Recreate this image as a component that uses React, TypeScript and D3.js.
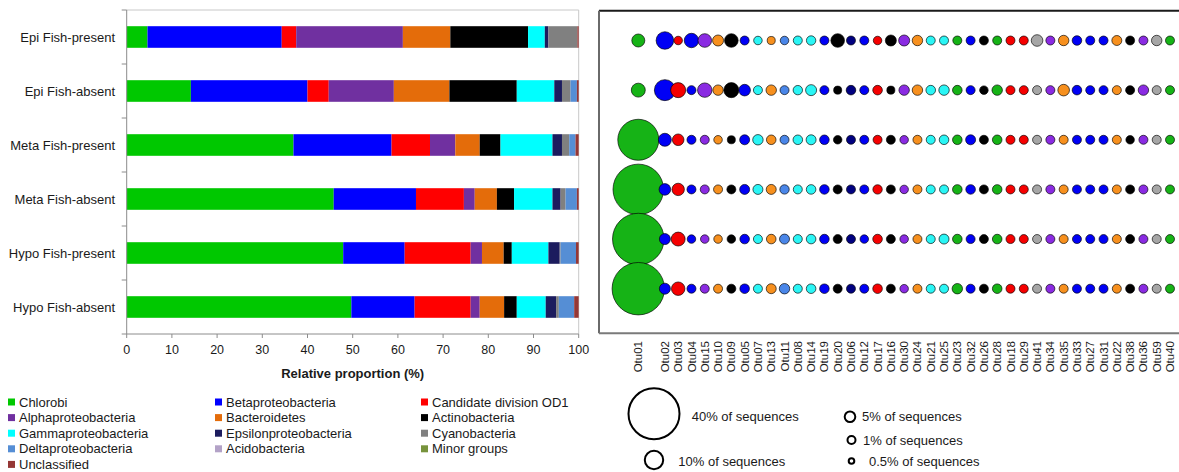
import React from "react";
import * as d3 from "d3";

// ---------- Stacked bar chart data ----------
const samples = [
  "Epi Fish-present",
  "Epi Fish-absent",
  "Meta Fish-present",
  "Meta Fish-absent",
  "Hypo Fish-present",
  "Hypo Fish-absent",
];

const phyla = [
  "Chlorobi",
  "Betaproteobacteria",
  "Candidate division OD1",
  "Alphaproteobacteria",
  "Bacteroidetes",
  "Actinobacteria",
  "Gammaproteobacteria",
  "Epsilonproteobacteria",
  "Cyanobacteria",
  "Deltaproteobacteria",
  "Acidobacteria",
  "Minor groups",
  "Unclassified",
];

const phylumColors = [
  "#00c800",
  "#0000ff",
  "#ff0000",
  "#7030a0",
  "#e46c0a",
  "#000000",
  "#00ffff",
  "#1c1c5e",
  "#808080",
  "#558ed5",
  "#b3a2c7",
  "#77933c",
  "#953735",
];

const barEpiPresent = [4.6, 29.7, 3.2, 23.6, 10.5, 17.2, 3.7, 0.8, 6.4, 0.0, 0.0, 0.0, 0.3];
const barEpiAbsent = [14.2, 25.8, 4.7, 14.4, 12.3, 14.9, 8.3, 1.7, 1.9, 1.4, 0.0, 0.0, 0.4];
const barMetaPresent = [36.9, 21.7, 8.5, 5.6, 5.4, 4.6, 11.5, 2.1, 1.6, 1.4, 0.0, 0.0, 0.7];
const barMetaAbsent = [45.8, 18.2, 10.6, 2.4, 4.9, 3.8, 8.5, 1.8, 1.1, 2.5, 0.0, 0.0, 0.4];
const barHypoPresent = [47.9, 13.6, 14.6, 2.5, 4.8, 1.8, 8.1, 2.5, 0.2, 3.4, 0.0, 0.0, 0.6];
const barHypoAbsent = [49.7, 14.0, 12.4, 2.0, 5.4, 2.8, 6.4, 2.3, 0.6, 3.4, 0.0, 0.0, 1.0];

const xTicks = [0, 10, 20, 30, 40, 50, 60, 70, 80, 90, 100];

// ---------- Bubble chart data ----------
const otuLabels = [
  "Otu01", "Otu02", "Otu03", "Otu04", "Otu15", "Otu10", "Otu09", "Otu05", "Otu07", "Otu13",
  "Otu11", "Otu08", "Otu14", "Otu19", "Otu20", "Otu06", "Otu12", "Otu17", "Otu16", "Otu30",
  "Otu24", "Otu21", "Otu25", "Otu23", "Otu32", "Otu26", "Otu28", "Otu18", "Otu29", "Otu41",
  "Otu34", "Otu35", "Otu33", "Otu27", "Otu31", "Otu22", "Otu38", "Otu36", "Otu59", "Otu40",
];

const otuGroups = [
  "Chl", "Beta", "OD1", "Beta", "Alpha", "Bact", "Actino", "Beta", "Gamma", "Bact",
  "Delta", "Gamma", "Gamma", "Beta", "Actino", "Eps", "Beta", "OD1", "Actino", "Alpha",
  "Bact", "Gamma", "Gamma", "Chl", "Beta", "Actino", "Chl", "OD1", "OD1", "Cyano",
  "Alpha", "Bact", "Beta", "Beta", "Beta", "Bact", "Actino", "Alpha", "Cyano", "Chl",
];

const groupKeys = ["Chl", "Beta", "OD1", "Alpha", "Bact", "Actino", "Gamma", "Delta", "Eps", "Cyano"];
const groupColors = ["#16b316", "#0000f5", "#f50000", "#8a2be2", "#f7901e", "#000000", "#2af5f5", "#4a86e8", "#000080", "#a6a6a6"];

const bubEpiPresent = [5.9, 8.8, 0.9, 6.8, 6.3, 4.1, 6.3, 1.0, 0.9, 0.8, 0.9, 1.0, 1.6, 1.0, 6.3, 1.0, 1.0, 0.9, 4.1, 4.1, 3.2, 1.0, 1.0, 1.0, 1.0, 1.0, 1.0, 1.0, 1.0, 5.0, 1.0, 3.2, 1.9, 1.0, 1.0, 2.5, 1.0, 1.0, 3.2, 1.0];
const bubEpiAbsent = [6.5, 11.5, 7.2, 1.0, 6.8, 3.2, 7.2, 5.0, 1.0, 3.2, 1.0, 1.6, 4.1, 1.0, 0.8, 1.9, 1.0, 1.9, 0.8, 3.2, 3.2, 1.9, 3.2, 1.9, 1.0, 0.9, 3.2, 1.0, 1.0, 1.0, 1.0, 5.0, 1.9, 1.0, 1.0, 1.0, 1.0, 3.2, 1.0, 1.0];
const bubMetaPresent = [29.9, 5.9, 5.0, 1.0, 1.0, 0.9, 0.8, 2.5, 3.2, 1.9, 1.0, 1.9, 2.5, 1.9, 0.9, 1.0, 1.0, 1.0, 1.0, 0.9, 1.0, 1.0, 1.9, 1.9, 2.5, 1.0, 1.9, 1.0, 1.0, 1.0, 1.0, 1.0, 1.0, 1.0, 1.0, 1.0, 0.9, 1.0, 1.0, 1.0];
const bubMetaAbsent = [38.7, 5.0, 5.5, 1.0, 1.0, 1.0, 1.0, 2.5, 2.5, 2.5, 1.6, 1.0, 1.9, 1.9, 1.0, 1.0, 1.0, 1.6, 1.0, 0.9, 1.0, 1.0, 1.0, 1.9, 1.9, 1.0, 1.9, 1.0, 1.0, 1.0, 1.0, 1.0, 1.0, 1.0, 1.0, 1.0, 1.0, 1.0, 1.0, 1.0];
const bubHypoPresent = [39.6, 4.1, 6.5, 0.9, 0.9, 0.9, 0.9, 1.9, 1.0, 1.9, 2.5, 1.0, 1.9, 1.9, 1.0, 1.0, 0.9, 1.9, 1.0, 0.9, 1.0, 1.0, 2.5, 1.9, 1.0, 1.0, 1.9, 1.0, 1.0, 1.0, 1.0, 1.0, 1.0, 1.0, 1.0, 1.0, 1.0, 1.0, 1.0, 1.0];
const bubHypoAbsent = [40.4, 4.1, 6.2, 1.0, 1.0, 1.0, 1.0, 1.9, 1.0, 2.5, 3.2, 1.0, 1.9, 1.9, 1.0, 1.0, 1.0, 1.9, 1.0, 0.9, 1.0, 1.0, 1.0, 3.2, 1.0, 1.0, 1.9, 1.0, 1.0, 1.0, 1.0, 1.0, 1.0, 1.0, 1.0, 1.0, 1.0, 1.0, 1.0, 1.0];

const sizeLegendValues = [40, 10, 5, 1, 0.5];
const sizeLegendLabels = ["40% of sequences", "10% of sequences", "5% of sequences", "1% of sequences", "0.5% of sequences"];

const FONT = "'Liberation Sans', Arial, Helvetica, sans-serif";
const TXT = "#1a1a1a";

export default function App() {
  const barValues = [barEpiPresent, barEpiAbsent, barMetaPresent, barMetaAbsent, barHypoPresent, barHypoAbsent];
  const bubValues = [bubEpiPresent, bubEpiAbsent, bubMetaPresent, bubMetaAbsent, bubHypoPresent, bubHypoAbsent];

  // --- bar chart scales
  const x = d3.scaleLinear().domain([0, 100]).range([126.7, 578.7]);
  const y = d3.scaleBand<string>().domain(samples).range([10, 334]).paddingInner(0.6).paddingOuter(0.3);
  const table = samples.map((s, i) => {
    const o: any = { sample: s };
    phyla.forEach((p, j) => (o[p] = barValues[i][j]));
    return o;
  });
  const stacked = d3.stack<any>().keys(phyla)(table);
  const color = d3.scaleOrdinal<string, string>().domain(phyla).range(phylumColors);
  const step = y.step();
  const boundaries = d3.range(samples.length + 1).map((k) => 10 + k * step);

  // --- bubble chart scales
  const slot = (i: number) => (i === 0 ? 0 : i + 1);
  const bx = d3.scaleLinear().domain([0, 40]).range([638.3, 1170]);
  const by = d3.scalePoint<string>().domain(samples).range([40.5, 288.7]);
  const rScale = d3.scaleLinear().domain([0.5, 1, 5, 10, 40]).range([3.8, 5, 6.3, 10.2, 26.5]);
  const gColor = d3.scaleOrdinal<string, string>().domain(groupKeys).range(groupColors);

  const legendCols = [8, 215, 421];
  const sizeLegendPos = [
    { cx: 654, cy: 413.7, tx: 691.7, ty: 416.7 },
    { cx: 654, cy: 460, tx: 678.3, ty: 461.7 },
    { cx: 850, cy: 416.7, tx: 862, ty: 416.7 },
    { cx: 851.5, cy: 440, tx: 863, ty: 440 },
    { cx: 851.5, cy: 461, tx: 869, ty: 461 },
  ];

  return (
    <svg
      width={1179}
      height={472}
      style={{ position: "absolute", left: 0, top: 0, background: "#fff" }}
      fontFamily={FONT}
    >
      <rect x={0} y={0} width={1179} height={472} fill="#fff" />

      {/* ===== Stacked bars ===== */}
      <g>
        <line x1={x(0)} x2={x(100)} y1={10} y2={10} stroke="#c8c8c8" strokeWidth={1} />
        <line x1={x(100)} x2={x(100)} y1={10} y2={334} stroke="#c8c8c8" strokeWidth={1} />
        {stacked.map((layer, j) =>
          layer.map((d, i) =>
            d[1] - d[0] > 0 ? (
              <rect
                key={`${j}-${i}`}
                x={x(d[0])}
                width={x(d[1]) - x(d[0])}
                y={y(samples[i])}
                height={y.bandwidth()}
                fill={color(phyla[j])}
              />
            ) : null
          )
        )}
        <line x1={x(0)} x2={x(0)} y1={10} y2={334} stroke="#8c8c8c" strokeWidth={1} />
        {boundaries.map((b, k) => (
          <line key={k} x1={x(0) - 5} x2={x(0)} y1={b} y2={b} stroke="#8c8c8c" strokeWidth={1} />
        ))}
        {samples.map((s) => (
          <text
            key={s}
            x={115}
            y={(y(s) as number) + y.bandwidth() / 2}
            dy="0.35em"
            textAnchor="end"
            fontSize={13}
            fill={TXT}
          >
            {s}
          </text>
        ))}
        <line x1={x(0)} x2={x(100)} y1={334} y2={334} stroke="#8c8c8c" strokeWidth={1} />
        {xTicks.map((t) => (
          <g key={t}>
            <line x1={x(t)} x2={x(t)} y1={334} y2={338} stroke="#8c8c8c" strokeWidth={1} />
            <text x={x(t)} y={350} dy="0.35em" textAnchor="middle" fontSize={12.5} fill={TXT}>
              {t}
            </text>
          </g>
        ))}
        <text x={(x(0) + x(100)) / 2} y={373} dy="0.35em" textAnchor="middle" fontSize={13} fontWeight="bold" fill={TXT}>
          Relative proportion (%)
        </text>

        {phyla.map((p, i) => {
          const col = i % 3;
          const row = Math.floor(i / 3);
          const lx = legendCols[col];
          const ly = 402 + row * 15.6;
          return (
            <g key={p}>
              <rect x={lx} y={ly - 3.5} width={7} height={7} fill={color(p)} />
              <text x={lx + 11} y={ly} dy="0.35em" fontSize={13} fill={TXT}>
                {p}
              </text>
            </g>
          );
        })}
      </g>

      {/* ===== Bubble chart ===== */}
      <g>
        {samples.map((s, ri) =>
          bubValues[ri].map((v, i) => (
            <circle
              key={`${ri}-${i}`}
              cx={bx(slot(i))}
              cy={by(s)}
              r={rScale(v) - 0.5}
              fill={gColor(otuGroups[i])}
              stroke="rgba(0,0,0,0.65)"
              strokeWidth={1}
            />
          ))
        )}
        <line x1={599} x2={1181} y1={10.7} y2={10.7} stroke="#1a1a1a" strokeWidth={2} />
        <line x1={599} x2={599} y1={10.7} y2={333.3} stroke="#6a6a6a" strokeWidth={2} />
        <line x1={599} x2={1181} y1={333.3} y2={333.3} stroke="#7a7a7a" strokeWidth={2} />

        {otuLabels.map((lab, i) => (
          <text
            key={lab}
            transform={`translate(${bx(slot(i))},341) rotate(-90)`}
            dy="0.35em"
            textAnchor="end"
            fontSize={11.5}
            fill={TXT}
          >
            {lab}
          </text>
        ))}

        {sizeLegendValues.map((v, i) => {
          const p = sizeLegendPos[i];
          return (
            <g key={v}>
              <circle cx={p.cx} cy={p.cy} r={rScale(v) - 1} fill="none" stroke="#000" strokeWidth={2} />
              <text x={p.tx} y={p.ty} dy="0.35em" fontSize={13} fill={TXT}>
                {sizeLegendLabels[i]}
              </text>
            </g>
          );
        })}
      </g>
    </svg>
  );
}
